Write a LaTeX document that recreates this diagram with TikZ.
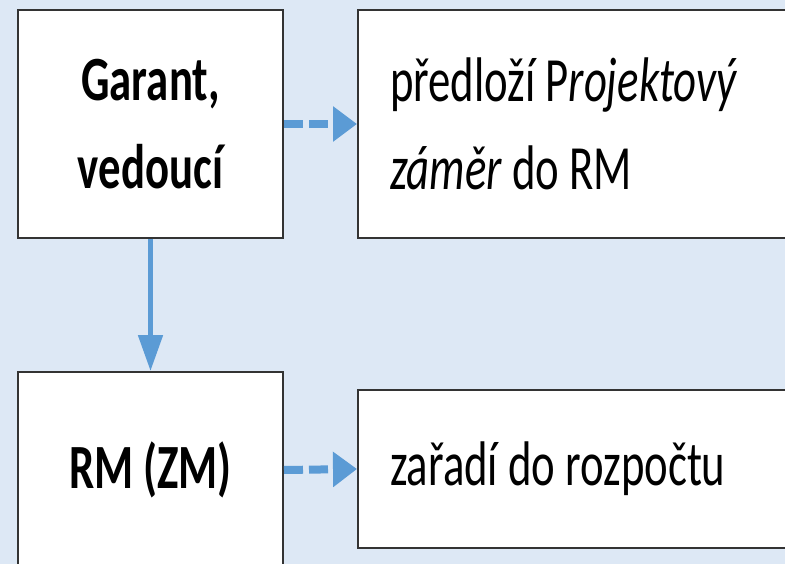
\documentclass[tikz,border=0pt]{standalone}
\usepackage{fontspec}
\setmainfont{Carlito}[FakeStretch=0.71]
\usetikzlibrary{arrows.meta}
\definecolor{bg}{RGB}{221,232,245}
\definecolor{arr}{RGB}{91,155,213}
\begin{document}
\begin{tikzpicture}[x=1pt,y=-1pt,
  box/.style={draw=black!80,line width=2pt,fill=white,inner sep=0pt,font=\fontsize{63}{88}\selectfont},
  boldbox/.style={box,font=\fontsize{63}{88}\selectfont\bfseries,align=center,minimum width=265pt},
  textbox/.style={box,text width=378pt,inner xsep=32pt,align=flush left},
  dasharr/.style={draw=arr,line width=8pt,dash pattern=on 19pt off 6pt,-{Triangle[length=24pt,width=34pt]}},
  solidarr/.style={draw=arr,line width=5pt,-{Triangle[length=36pt,width=24pt]}}]
\fill[bg] (0,0) rectangle (785,564);
\clip (0,0) rectangle (785,564);
\node[boldbox,minimum height=228pt] (a) at (150.5,124) {Garant,\\vedoucí};
\node[textbox,minimum height=228pt] (b) at (579,124) {předloží P\textit{rojektový}\\\textit{záměr} do RM};
\node[boldbox,minimum height=196pt] (c) at (150.5,470) {RM (ZM)};
\node[textbox,minimum height=158pt] (d) at (579,469) {zařadí do rozpočtu};
\draw[dasharr] (a.east) -- (b.west);
\draw[solidarr] (a.south) -- (c.north);
\draw[dasharr] (c.east) -- (d.west);
\end{tikzpicture}
\end{document}
